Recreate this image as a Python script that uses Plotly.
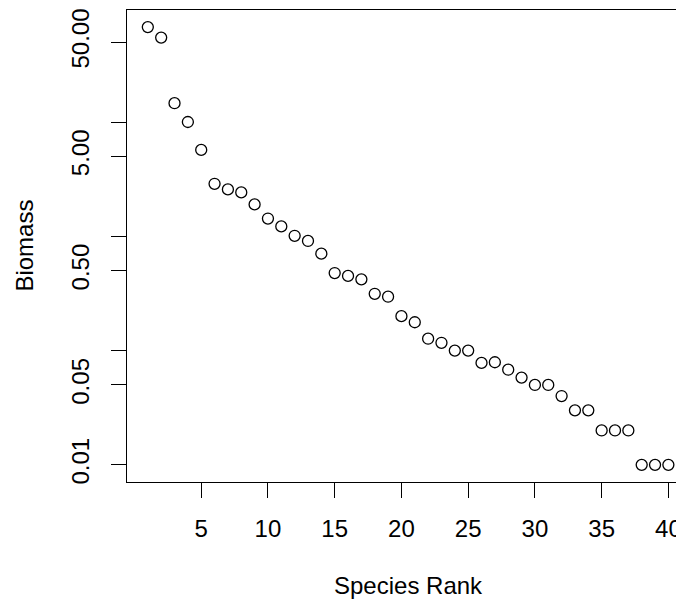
import plotly.graph_objects as go

rank = list(range(1, 41))
biomass = [67.7, 54.8, 14.6, 10.0, 5.7, 2.88, 2.57, 2.42, 1.90, 1.43,
           1.22, 1.01, 0.91, 0.705, 0.477, 0.45, 0.42, 0.314, 0.296, 0.20,
           0.177, 0.127, 0.117, 0.10, 0.10, 0.078, 0.079, 0.068, 0.058, 0.05,
           0.05, 0.04, 0.03, 0.03, 0.02, 0.02, 0.02, 0.01, 0.01, 0.01]

x_tickvals = [5, 10, 15, 20, 25, 30, 35, 40]
y_tickvals = [0.01, 0.05, 0.1, 0.5, 1, 5, 10, 50]
y_ticktext = ["0.01", "0.05", "", "0.50", "", "5.00", "", "50.00"]

FONT = "Liberation Sans, Arial, Helvetica, sans-serif"
FS = 24

fig = go.Figure()
fig.add_trace(go.Scatter(
    x=rank, y=biomass, mode="markers",
    marker=dict(symbol="circle-open", size=11, color="black", line=dict(width=1.3)),
    showlegend=False, hoverinfo="skip"))

fig.update_layout(
    width=676, height=595,
    margin=dict(l=118.5, r=0, t=2, b=121, pad=0),
    paper_bgcolor="white", plot_bgcolor="white",
    font=dict(family=FONT, size=FS, color="black"),
    xaxis=dict(range=[-0.56, 41.17], tickvals=x_tickvals, ticks="outside",
               ticklen=15, tickwidth=1.2, tickcolor="black",
               showline=True, linecolor="black", linewidth=1.2, mirror=True,
               showgrid=False, zeroline=False, ticklabelstandoff=10,
               tickfont=dict(family=FONT, size=FS, color="black")),
    yaxis=dict(type="log", range=[-2.150, 1.980], tickvals=y_tickvals, ticktext=y_ticktext,
               ticks="outside", ticklen=15, tickwidth=1.2, tickcolor="black",
               tickangle=-90, ticklabelstandoff=12,
               showline=True, linecolor="black", linewidth=1.2, mirror=False,
               showgrid=False, zeroline=False,
               tickfont=dict(family=FONT, size=FS, color="black")),
    annotations=[
        dict(text="Species Rank", xref="x", yref="paper", x=20.5, y=-0.22,
             xanchor="center", yanchor="middle", showarrow=False,
             font=dict(family=FONT, size=FS, color="black")),
        dict(text="Biomass", xref="paper", yref="paper", x=-0.1857, y=0.5,
             xanchor="center", yanchor="middle", showarrow=False, textangle=-90,
             font=dict(family=FONT, size=FS, color="black")),
    ],
)

fig.write_html("out.html")
